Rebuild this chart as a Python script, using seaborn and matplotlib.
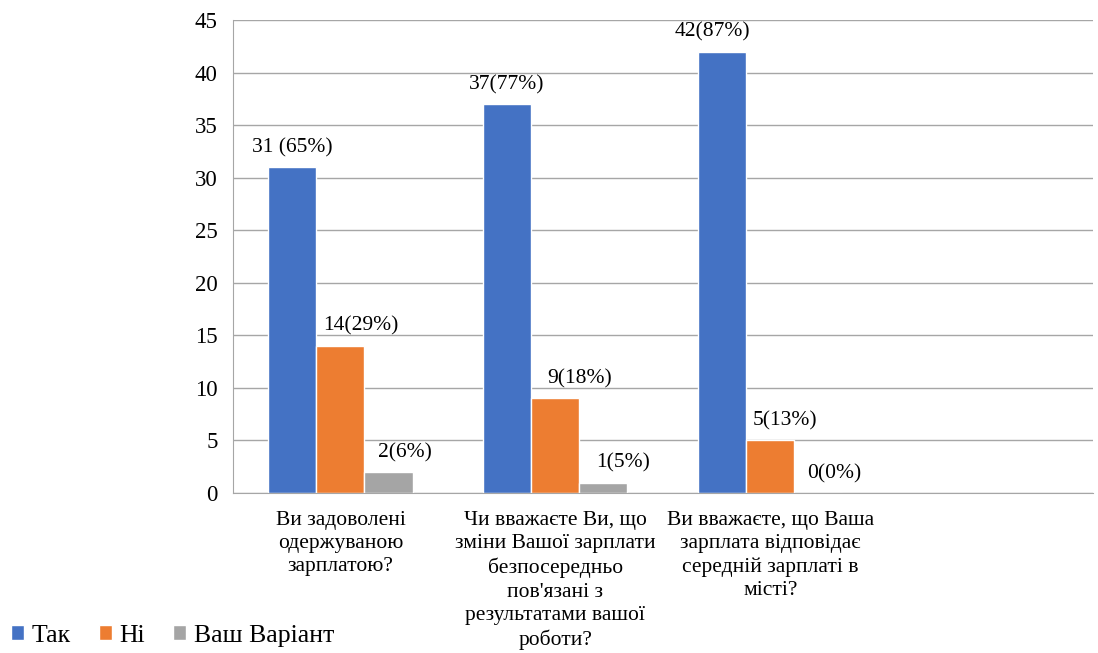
import matplotlib
matplotlib.use("Agg")
import matplotlib.pyplot as plt
import seaborn as sns
import pandas as pd
import numpy as np

categories = [
    "Ви задоволені\nодержуваною\nзарплатою?",
    "Чи вважаєте Ви, що\nзміни Вашої зарплати\nбезпосередньо\nпов'язані з\nрезультатами вашої\nроботи?",
    "Ви вважаєте, що Ваша\nзарплата відповідає\nсередній зарплаті в\nмісті?",
    " ",
]
series = ["Так", "Ні", "Ваш Варіант"]
tak = [31, 37, 42]
ni = [14, 9, 5]
variant = [2, 1, 0]
labels_tak = ["31 (65%)", "37(77%)", "42(87%)"]
labels_ni = ["14(29%)", "9(18%)", "5(13%)"]
labels_variant = ["2(6%)", "1(5%)", "0(0%)"]
colors = ["#4472C4", "#ED7D31", "#A5A5A5"]

# horizontal nudges (pixels) of the data labels, as placed in the original
label_dx = [[0, -1, -10], [20, 24, 15], [16, 20, 16]]

rows = []
for s, vals in zip(series, [tak, ni, variant]):
    for c, v in zip(categories[:3], vals):
        rows.append({"cat": c, "series": s, "value": v})
df = pd.DataFrame(rows)

sns.set_style("white")
plt.rcParams["font.family"] = ["Liberation Serif", "DejaVu Serif"]

fig = plt.figure(figsize=(10.98, 6.53), dpi=100)
ax = fig.add_axes([0.2122, 0.245, 0.9954 - 0.2122, 0.9694 - 0.245])

sns.barplot(data=df, x="cat", y="value", hue="series", order=categories,
            hue_order=series, palette=colors, width=0.67, ax=ax,
            saturation=1, errorbar=None, legend=True)

px = 72 / 100
for cont, labs, dxs in zip(ax.containers, [labels_tak, labels_ni, labels_variant], label_dx):
    for bar, lab, dx in zip(cont, labs, dxs):
        x = bar.get_x() + bar.get_width() / 2
        y = bar.get_height()
        ax.annotate(lab, (x, y), xytext=(dx * px, 10 * px), textcoords="offset points",
                    ha="center", va="bottom", fontsize=15.5, color="black")

ax.set_xlim(-0.5, 3.5)
ax.set_ylim(0, 45)
ax.set_yticks(np.arange(0, 46, 5))
ax.yaxis.grid(True, color="#a6a6a6", linewidth=1)
ax.set_axisbelow(True)
ax.set_xlabel("")
ax.set_ylabel("")
for sp in ["top", "right"]:
    ax.spines[sp].set_visible(False)
ax.spines["left"].set_color("#a6a6a6")
ax.spines["bottom"].set_color("#a6a6a6")
ax.tick_params(axis="y", labelsize=16.5, length=6, color="#a6a6a6", pad=5, labelcolor="black")
ax.tick_params(axis="x", which="major", length=0, labelsize=15.5, pad=13, labelcolor="black")
ax.set_xticks(np.arange(len(categories)))
ax.set_xticklabels(categories, linespacing=1.3, va="top")
ax.set_xticks(np.arange(-0.5, len(categories), 1.0), minor=True)
ax.tick_params(axis="x", which="minor", length=7, color="#a6a6a6", direction="out")

h, l = ax.get_legend_handles_labels()
ax.get_legend().remove()
fig.legend(h, l, loc="lower left", bbox_to_anchor=(0.004, 0.0), ncol=3, frameon=False,
           fontsize=18.5, handlelength=0.5, handleheight=0.5, handletextpad=0.3,
           columnspacing=1.1, labelcolor="black", borderaxespad=0.0, borderpad=0.25)

fig.savefig("out.png", dpi=100)
